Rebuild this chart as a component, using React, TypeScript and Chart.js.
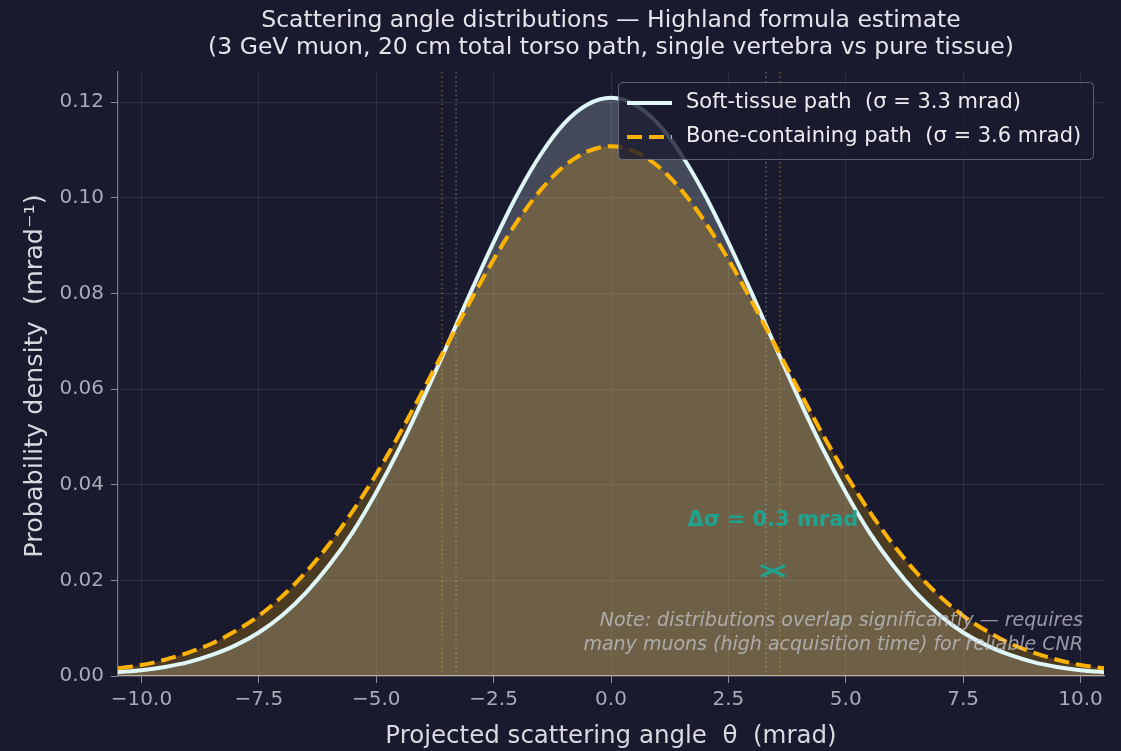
import { useEffect, useRef } from "react";
import { Chart, registerables } from "chart.js";

Chart.register(...registerables);

// Projected scattering angle θ (mrad)
const thetaValues = [
  -10.5, -10, -9.5, -9, -8.5, -8, -7.5, -7, -6.5, -6, -5.5, -5, -4.5, -4, -3.5, -3, -2.5, -2, -1.5, -1, -0.5,
  0,
  0.5, 1, 1.5, 2, 2.5, 3, 3.5, 4, 4.5, 5, 5.5, 6, 6.5, 7, 7.5, 8, 8.5, 9, 9.5, 10, 10.5,
];

// Soft-tissue path density (σ = 3.3 mrad)
const softTissueDensity = [
  0.0008, 0.0012, 0.0019, 0.0029, 0.0044, 0.0064, 0.0091, 0.0127, 0.0174, 0.0232, 0.0301, 0.0384, 0.0477,
  0.058, 0.0689, 0.08, 0.0907, 0.1006, 0.109, 0.1155, 0.1195,
  0.1209,
  0.1195, 0.1155, 0.109, 0.1006, 0.0907, 0.08, 0.0689, 0.058, 0.0477, 0.0384, 0.0301, 0.0232, 0.0174,
  0.0127, 0.0091, 0.0064, 0.0044, 0.0029, 0.0019, 0.0012, 0.0008,
];

// Bone-containing path density (σ = 3.6 mrad)
const boneDensity = [
  0.0016, 0.0023, 0.0034, 0.0049, 0.0068, 0.0094, 0.0126, 0.0167, 0.0217, 0.0276, 0.0345, 0.0422, 0.0507,
  0.0598, 0.0691, 0.0783, 0.0871, 0.095, 0.1016, 0.1066, 0.1097,
  0.1108,
  0.1097, 0.1066, 0.1016, 0.095, 0.0871, 0.0783, 0.0691, 0.0598, 0.0507, 0.0422, 0.0345, 0.0276, 0.0217,
  0.0167, 0.0126, 0.0094, 0.0068, 0.0049, 0.0034, 0.0023, 0.0016,
];

const xTickValues = [-10, -7.5, -5, -2.5, 0, 2.5, 5, 7.5, 10];
const yTickValues = [0, 0.02, 0.04, 0.06, 0.08, 0.1, 0.12];

const sigmaSoft = 3.3;
const sigmaBone = 3.6;
const deltaLabelX = 3.45;
const deltaLabelY = 0.0325;
const deltaArrowY = 0.022;

const titleLines = [
  "Scattering angle distributions \u2014 Highland formula estimate",
  "(3 GeV muon, 20 cm total torso path, single vertebra vs pure tissue)",
];
const legendLabels = [
  "Soft-tissue path  (\u03c3 = 3.3 mrad)",
  "Bone-containing path  (\u03c3 = 3.6 mrad)",
];
const noteLines = [
  "Note: distributions overlap significantly \u2014 requires",
  "many muons (high acquisition time) for reliable CNR",
];
const deltaLabel = "\u0394\u03c3 = 0.3 mrad";
const xAxisTitle = "Projected scattering angle  \u03b8  (mrad)";
const yAxisTitle = "Probability density  (mrad\u207b\u00b9)";

const BG = "#1a1a2e";
const SOFT = "#e0f7fa";
const BONE = "#ffb300";
const TEAL = "#1fa38e";
const FONT = "'DejaVu Sans', 'Noto Sans', sans-serif";

const fmtMinus = (v: number, d: number) => {
  const s = Math.abs(v).toFixed(d);
  return v < 0 ? "\u2212" + s : s;
};

const overlayPlugin = {
  id: "overlay",
  beforeDraw(chart: any) {
    const { ctx, width, height } = chart;
    ctx.save();
    ctx.fillStyle = BG;
    ctx.fillRect(0, 0, width, height);
    ctx.restore();
  },
  beforeDatasetsDraw(chart: any) {
    const { ctx, chartArea, scales } = chart;
    const x = scales.x;
    ctx.save();
    ctx.lineWidth = 1.3;
    ctx.setLineDash([1.5, 3]);
    const pairs: [number, string][] = [
      [sigmaSoft, "rgba(200,205,235,0.45)"],
      [sigmaBone, "rgba(255,179,0,0.45)"],
    ];
    pairs.forEach(([s, c]) => {
      [-s, s].forEach((v) => {
        const px = x.getPixelForValue(v);
        ctx.strokeStyle = c;
        ctx.beginPath();
        ctx.moveTo(px, chartArea.top);
        ctx.lineTo(px, chartArea.bottom);
        ctx.stroke();
      });
    });
    ctx.restore();
  },
  afterDraw(chart: any) {
    const { ctx, chartArea, scales } = chart;
    const x = scales.x;
    const y = scales.y;
    const cx = (chartArea.left + chartArea.right) / 2;
    const cy = (chartArea.top + chartArea.bottom) / 2;
    ctx.save();
    ctx.textBaseline = "middle";

    // Title
    ctx.fillStyle = "#e4e4ec";
    ctx.textAlign = "center";
    ctx.font = `23.5px ${FONT}`;
    ctx.fillText(titleLines[0], cx, 21);
    ctx.fillText(titleLines[1], cx, 48);

    // Axis titles
    ctx.fillStyle = "#d8d8e0";
    ctx.font = `24.5px ${FONT}`;
    ctx.fillText(xAxisTitle, cx, 737);
    ctx.save();
    ctx.font = `25.5px ${FONT}`;
    ctx.translate(35, cy + 2);
    ctx.rotate(-Math.PI / 2);
    ctx.fillText(yAxisTitle, 0, 0);
    ctx.restore();

    // Δσ annotation
    ctx.fillStyle = TEAL;
    ctx.font = `bold 21px ${FONT}`;
    ctx.fillText(deltaLabel, x.getPixelForValue(deltaLabelX), y.getPixelForValue(deltaLabelY));
    const ax1 = x.getPixelForValue(sigmaSoft);
    const ax2 = x.getPixelForValue(sigmaBone);
    const ay = y.getPixelForValue(deltaArrowY);
    const am = (ax1 + ax2) / 2;
    ctx.strokeStyle = TEAL;
    ctx.lineWidth = 3;
    ctx.lineCap = "round";
    ctx.beginPath();
    ctx.moveTo(am - 11, ay - 5);
    ctx.lineTo(am + 11, ay + 5);
    ctx.moveTo(am - 11, ay + 5);
    ctx.lineTo(am + 11, ay - 5);
    ctx.stroke();

    // Note
    ctx.fillStyle = "rgba(200,200,210,0.72)";
    ctx.font = `italic 19px ${FONT}`;
    ctx.textAlign = "right";
    ctx.fillText(noteLines[0], 1083, 621);
    ctx.fillText(noteLines[1], 1083, 645);

    // Legend
    const lx = 618, ly = 82, lw = 475, lh = 77;
    ctx.fillStyle = "rgba(26,26,46,0.8)";
    ctx.strokeStyle = "rgba(120,124,145,0.7)";
    ctx.lineWidth = 1;
    ctx.beginPath();
    ctx.roundRect(lx + 0.5, ly + 0.5, lw, lh, 4);
    ctx.fill();
    ctx.stroke();
    ctx.lineCap = "butt";
    ctx.lineWidth = 4;
    ctx.strokeStyle = SOFT;
    ctx.beginPath();
    ctx.moveTo(627, 103);
    ctx.lineTo(672, 103);
    ctx.stroke();
    ctx.strokeStyle = BONE;
    ctx.setLineDash([15, 7]);
    ctx.beginPath();
    ctx.moveTo(627, 137);
    ctx.lineTo(672, 137);
    ctx.stroke();
    ctx.setLineDash([]);
    ctx.fillStyle = "#ececf0";
    ctx.font = `21px ${FONT}`;
    ctx.textAlign = "left";
    ctx.fillText(legendLabels[0], 686, 103);
    ctx.fillText(legendLabels[1], 686, 137);

    ctx.restore();
  },
};

export default function App() {
  const canvasRef = useRef<HTMLCanvasElement | null>(null);

  useEffect(() => {
    const canvas = canvasRef.current;
    if (!canvas) return;
    const softData = thetaValues.map((t, i) => ({ x: t, y: softTissueDensity[i] }));
    const boneData = thetaValues.map((t, i) => ({ x: t, y: boneDensity[i] }));

    const chart = new Chart(canvas, {
      type: "line",
      data: {
        datasets: [
          {
            label: legendLabels[0],
            data: softData,
            borderColor: SOFT,
            borderWidth: 4,
            backgroundColor: "rgba(224,247,250,0.22)",
            fill: "origin",
            pointRadius: 0,
            cubicInterpolationMode: "monotone",
            order: 1,
          },
          {
            label: legendLabels[1],
            data: boneData,
            borderColor: BONE,
            borderWidth: 4,
            borderDash: [15, 7],
            backgroundColor: "rgba(255,179,0,0.22)",
            fill: "origin",
            pointRadius: 0,
            cubicInterpolationMode: "monotone",
            order: 0,
          },
        ],
      },
      options: {
        animation: false,
        responsive: false,
        devicePixelRatio: 1,
        layout: { padding: { top: 72, right: 17, bottom: 0, left: 0 } },
        plugins: {
          legend: { display: false },
          tooltip: { enabled: false },
          filler: { drawTime: "beforeDatasetsDraw" },
        },
        scales: {
          x: {
            type: "linear",
            min: -10.5,
            max: 10.5,
            afterFit: (scale: any) => {
              scale.height = 75;
            },
            afterBuildTicks: (scale: any) => {
              scale.ticks = xTickValues.map((v) => ({ value: v }));
            },
            ticks: {
              color: "#a9a9b8",
              font: { family: FONT, size: 20 },
              padding: 5,
              maxRotation: 0,
              autoSkip: false,
              callback: (v: any) => fmtMinus(Number(v), 1),
            },
            grid: {
              color: "rgba(200,200,235,0.12)",
              tickColor: "#8a8a9c",
              tickLength: 7,
              drawTicks: true,
            },
            border: { display: true, color: "#9a9aaa", width: 1.2 },
          },
          y: {
            type: "linear",
            min: 0,
            max: 0.1263,
            afterFit: (scale: any) => {
              scale.width = 118;
            },
            afterBuildTicks: (scale: any) => {
              scale.ticks = yTickValues.map((v) => ({ value: v }));
            },
            ticks: {
              color: "#a9a9b8",
              font: { family: FONT, size: 20 },
              padding: 7,
              autoSkip: false,
              callback: (v: any) => Number(v).toFixed(2),
            },
            grid: {
              color: "rgba(200,200,235,0.12)",
              tickColor: "#8a8a9c",
              tickLength: 7,
              drawTicks: true,
            },
            border: { display: true, color: "#7a7a8c", width: 1.2 },
          },
        },
      } as any,
      plugins: [overlayPlugin],
    });

    return () => {
      chart.destroy();
    };
  }, []);

  return (
    <div
      style={{
        position: "fixed",
        left: 0,
        top: 0,
        width: 1121,
        height: 751,
        background: BG,
      }}
    >
      <canvas ref={canvasRef} width={1121} height={751} style={{ display: "block" }} />
    </div>
  );
}
